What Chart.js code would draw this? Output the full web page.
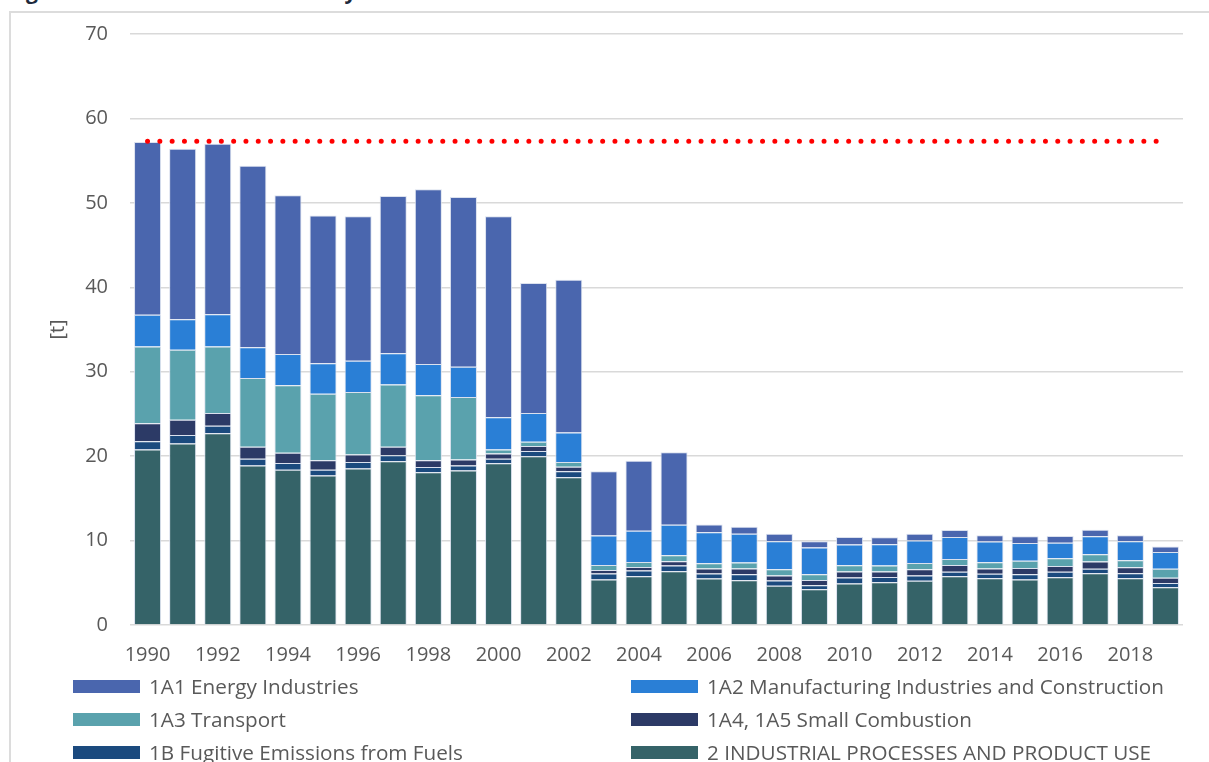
<!DOCTYPE html>
<html>
<head>
<meta charset="utf-8">
<script src="https://cdn.jsdelivr.net/npm/chart.js@4.4.0/dist/chart.umd.min.js"></script>
<style>
  html, body { margin: 0; padding: 0; background: #fff; overflow: hidden; }
  body { width: 1209px; height: 762px; position: relative; font-family: "Open Sans", sans-serif; }
  #frame { position: absolute; left: 9px; top: 11px; width: 1300px; height: 900px; border: 2px solid #dcdcdc; box-sizing: border-box; }
  #title { position: absolute; left: 8px; top: -23px; font: bold 21px "Open Sans", sans-serif; color: #1e2a3c; white-space: nowrap; }
  #wrap { position: absolute; left: 0; top: 0; width: 1209px; height: 668px; }
  #legend { position: absolute; left: 0; top: 0; width: 1209px; height: 762px; pointer-events: none; }
  .item { position: absolute; height: 22px; display: flex; align-items: center; font-size: 20.7px; color: #595959; white-space: nowrap; }
  .box { width: 67px; height: 13px; margin-right: 9px; }
</style>
</head>
<body>
<div id="frame"></div>
<div id="title">Figure 10: Total PAH Emissions by Sector</div>
<div id="wrap"><canvas id="chart" width="1209" height="668"></canvas></div>
<div id="legend"></div>
<script>
const years = ['1990','1991','1992','1993','1994','1995','1996','1997','1998','1999',
  '2000','2001','2002','2003','2004','2005','2006','2007','2008','2009',
  '2010','2011','2012','2013','2014','2015','2016','2017','2018','2019'];

// stacked from the bottom up
const industrial = [20.8, 21.5, 22.7, 18.9, 18.4, 17.7, 18.55, 19.4, 18.1, 18.3,
  19.15, 20.0, 17.5, 5.4, 5.76, 6.36, 5.5, 5.3, 4.66, 4.22,
  4.93, 5.05, 5.25, 5.76, 5.53, 5.4, 5.65, 6.12, 5.53, 4.46];
const fugitive = [0.95, 1.0, 0.9, 0.8, 0.8, 0.7, 0.75, 0.7, 0.6, 0.6,
  0.55, 0.6, 0.7, 0.7, 0.7, 0.7, 0.6, 0.7, 0.6, 0.5,
  0.7, 0.65, 0.6, 0.55, 0.55, 0.6, 0.65, 0.55, 0.6, 0.5];
const smallComb = [2.15, 1.8, 1.5, 1.4, 1.2, 1.1, 0.9, 1.0, 0.8, 0.7,
  0.6, 0.6, 0.55, 0.4, 0.4, 0.5, 0.6, 0.7, 0.6, 0.6,
  0.7, 0.65, 0.75, 0.8, 0.6, 0.75, 0.7, 0.85, 0.7, 0.65];
const transport = [9.1, 8.3, 7.9, 8.15, 8.0, 7.9, 7.4, 7.4, 7.7, 7.4,
  0.5, 0.5, 0.55, 0.6, 0.6, 0.7, 0.6, 0.7, 0.75, 0.7,
  0.75, 0.7, 0.75, 0.7, 0.75, 0.85, 0.9, 0.85, 0.85, 1.05];
const manufacturing = [3.75, 3.6, 3.8, 3.65, 3.7, 3.6, 3.7, 3.7, 3.7, 3.6,
  3.8, 3.4, 3.5, 3.5, 3.7, 3.6, 3.7, 3.4, 3.3, 3.15,
  2.45, 2.5, 2.65, 2.6, 2.45, 2.1, 1.85, 2.15, 2.25, 2.0];
const energy = [20.45, 20.2, 20.2, 21.5, 18.8, 17.5, 17.1, 18.6, 20.7, 20.1,
  23.8, 15.4, 18.1, 7.6, 8.3, 8.6, 0.9, 0.85, 0.9, 0.75,
  0.9, 0.85, 0.8, 0.85, 0.75, 0.8, 0.8, 0.75, 0.7, 0.65];
// 1990 level, red dotted
const baseLevel = [57.3, 57.3, 57.3, 57.3, 57.3, 57.3, 57.3, 57.3, 57.3, 57.3,
  57.3, 57.3, 57.3, 57.3, 57.3, 57.3, 57.3, 57.3, 57.3, 57.3,
  57.3, 57.3, 57.3, 57.3, 57.3, 57.3, 57.3, 57.3, 57.3, 57.3];

const yTicks = [0, 10, 20, 30, 40, 50, 60, 70];

const txt = '#595959';
const font = { family: "'Open Sans', sans-serif", size: 20 };

function bar(label, data, color) {
  return {
    type: 'bar', label: label, data: data, backgroundColor: color,
    borderColor: 'rgba(215,222,236,0.9)', borderWidth: 1, stack: 'em'
  };
}

const chart = new Chart(document.getElementById('chart'), {
  data: {
    labels: years,
    datasets: [
      {
        type: 'line', label: 'ref', data: baseLevel, stack: 'ref',
        borderColor: '#ff0000', borderWidth: 5, borderDash: [0, 12.3],
        borderCapStyle: 'round', pointRadius: 0, fill: false, order: -1
      },
      bar('2 INDUSTRIAL PROCESSES AND PRODUCT USE', industrial, '#356368'),
      bar('1B Fugitive Emissions from Fuels', fugitive, '#1b4a7e'),
      bar('1A4, 1A5 Small Combustion', smallComb, '#2c3a66'),
      bar('1A3 Transport', transport, '#5aa2ad'),
      bar('1A2 Manufacturing Industries and Construction', manufacturing, '#2a7fd6'),
      bar('1A1 Energy Industries', energy, '#4a66ae')
    ]
  },
  options: {
    responsive: false,
    animation: false,
    devicePixelRatio: 1,
    layout: { padding: { left: 43, right: 26, top: 34, bottom: 0 } },
    datasets: { bar: { categoryPercentage: 1, barPercentage: 0.77 } },
    plugins: { legend: { display: false }, tooltip: { enabled: false } },
    scales: {
      x: {
        stacked: true,
        grid: { display: false },
        border: { display: false },
        afterFit: s => { s.height = 43; },
        ticks: {
          color: txt, font: font, padding: 10, autoSkip: false, maxRotation: 0,
          callback: function(v, i) { return i % 2 === 0 ? this.getLabelForValue(v) : ''; }
        }
      },
      y: {
        stacked: true,
        min: yTicks[0], max: yTicks[yTicks.length - 1],
        afterFit: s => { s.width = 87; },
        afterBuildTicks: s => { s.ticks = yTicks.map(v => ({ value: v })); },
        grid: { color: '#d9d9d9', lineWidth: 1.5, drawTicks: false },
        border: { display: false },
        ticks: { color: txt, font: font, padding: 22 },
        title: { display: true, text: '[t]', color: txt, font: font, padding: { top: 3, bottom: 0 } }
      }
    }
  }
});

// legend in two columns, same order as the source chart
const legendOrder = ['1A1 Energy Industries', '1A2 Manufacturing Industries and Construction',
  '1A3 Transport', '1A4, 1A5 Small Combustion',
  '1B Fugitive Emissions from Fuels', '2 INDUSTRIAL PROCESSES AND PRODUCT USE'];
const leg = document.getElementById('legend');
legendOrder.forEach((name, i) => {
  const ds = chart.data.datasets.find(d => d.label === name);
  const el = document.createElement('div');
  el.className = 'item';
  el.style.left = (i % 2 === 0 ? 73 : 631) + 'px';
  el.style.top = (675 + Math.floor(i / 2) * 33) + 'px';
  el.innerHTML = '<span class="box" style="background:' + ds.backgroundColor + '"></span>' + name;
  leg.appendChild(el);
});
</script>
</body>
</html>
